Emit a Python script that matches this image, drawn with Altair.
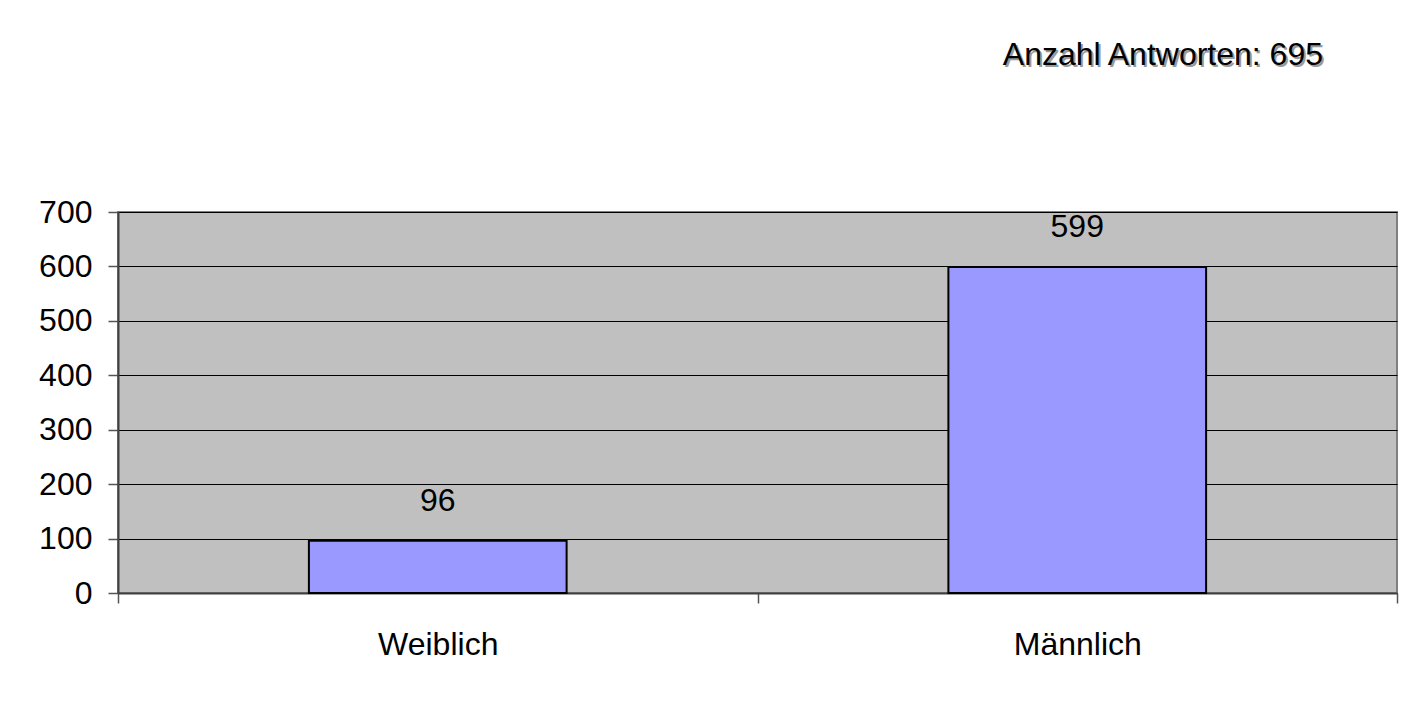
import altair as alt
import pandas as pd

categories = ["Weiblich", "Männlich"]
counts = [96, 599]
total_label = ["Anzahl Antworten: 695"]
y_ticks = [0, 100, 200, 300, 400, 500, 600, 700]

df = pd.DataFrame({"Geschlecht": categories, "Anzahl": counts})
tdf = pd.DataFrame({"t": total_label})

W, H = 1279, 381
FONT = "Liberation Sans"
FS = 32

x_enc = alt.X(
    "Geschlecht:N", sort=categories,
    scale=alt.Scale(paddingInner=0, paddingOuter=0),
    axis=alt.Axis(title=None, labelAngle=0, tickBand="extent", tickSize=10,
                  tickColor="#555555", tickWidth=1.5, domainColor="#404040", domainWidth=2,
                  labelFontSize=FS, labelFont=FONT, labelColor="black",
                  labelBaseline="alphabetic", labelPadding=51, grid=False),
)
y_enc = alt.Y(
    "Anzahl:Q",
    scale=alt.Scale(domain=[0, 700], nice=False),
    axis=alt.Axis(title=None, values=y_ticks, grid=True, gridColor="black", gridWidth=1,
                  tickSize=10, tickColor="#555555", tickWidth=1.5,
                  domainColor="#404040", domainWidth=2,
                  labelFontSize=FS, labelFont=FONT, labelColor="black", labelPadding=16),
)

bars = alt.Chart(df).mark_bar(
    width=alt.RelativeBandSize(0.403), fill="#9999FF", stroke="black", strokeWidth=2
).encode(x=x_enc, y=y_enc)

labels = alt.Chart(df).mark_text(
    baseline="alphabetic", dy=-30, fontSize=FS, font=FONT, color="black"
).encode(x=alt.X("Geschlecht:N", sort=categories), y="Anzahl:Q", text="Anzahl:Q")

shadow = alt.Chart(tdf).mark_text(
    align="right", baseline="alphabetic", fontSize=FS, font=FONT, color="#9a9a9a"
).encode(x=alt.value(W - 72), y=alt.value(-145), text="t:N")

title = alt.Chart(tdf).mark_text(
    align="right", baseline="alphabetic", fontSize=FS, font=FONT, color="black"
).encode(x=alt.value(W - 74), y=alt.value(-147), text="t:N")

chart = alt.layer(bars, labels, shadow, title).properties(
    width=W, height=H,
    autosize=alt.AutoSizeParams(type="none"),
    padding={"left": 110, "top": 204, "right": 18, "bottom": 100},
    background="white",
).configure_view(fill="#C0C0C0", stroke="#808080", strokeWidth=2)

chart.save("out.html", embed_options={"renderer": "svg", "actions": False})
